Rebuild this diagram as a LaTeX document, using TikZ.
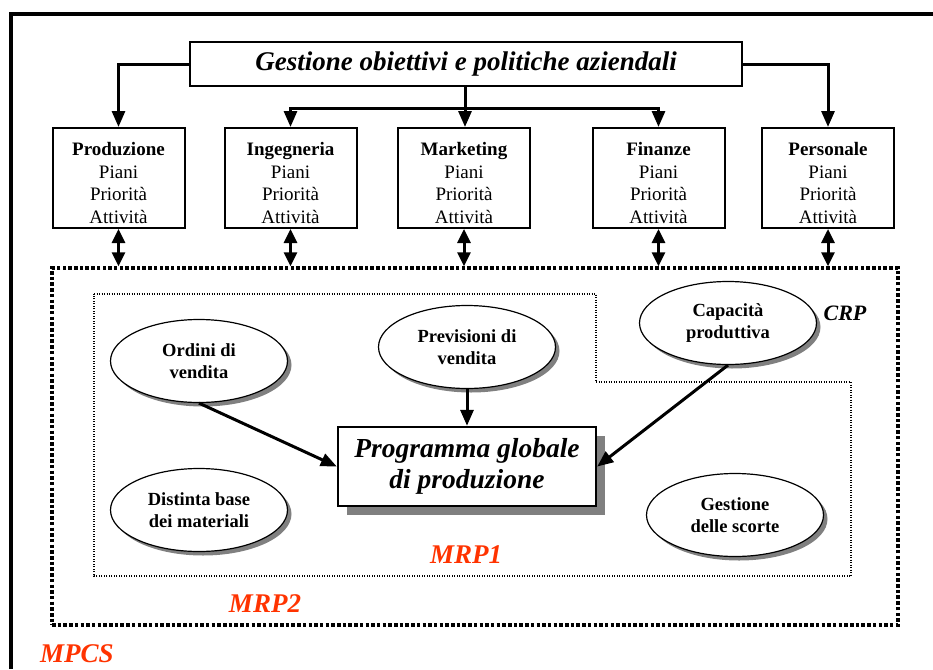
\documentclass[tikz,border=0pt]{standalone}
\usepackage{fontspec}
\setmainfont{Liberation Serif}
\usetikzlibrary{arrows.meta,shapes.geometric,shadows}
\definecolor{mrpred}{RGB}{255,51,0}
\definecolor{shade}{RGB}{128,128,128}

% four-line label of a functional area, set slightly below the box centre
\newcommand\depttext[1]{\raisebox{-7pt}[\height][\depth]{\begin{tabular}{@{}c@{}}\textbf{#1}\\Piani\\Priorità\\Attività\end{tabular}}}

\begin{document}
\begin{tikzpicture}[x=1pt,y=-1pt,
  conn/.style={line width=3pt,-{Triangle[length=16pt,width=13pt]}},
  twoway/.style={line width=3pt,{Triangle[length=14pt,width=13pt]}-{Triangle[length=14pt,width=13pt]}},
  goal/.style={draw,line width=2pt,minimum width=552pt,minimum height=44pt,inner sep=0pt,
    font=\bfseries\itshape\fontsize{27}{30}\selectfont},
  dept/.style={draw,line width=2pt,minimum width=132pt,minimum height=100pt,inner sep=0pt,
    font=\fontsize{19}{22.5}\selectfont},
  input/.style={ellipse,draw,line width=1.2pt,fill=white,minimum width=177pt,minimum height=83pt,
    inner sep=0pt,align=center,font=\bfseries\fontsize{18.5}{22}\selectfont,
    drop shadow={shadow xshift=4pt,shadow yshift=-4pt,fill=shade,opacity=1}},
  master/.style={draw,line width=2.4pt,fill=white,minimum width=258pt,minimum height=79pt,inner sep=0pt,
    align=center,font=\bfseries\itshape\fontsize{27.5}{31}\selectfont,
    drop shadow={shadow xshift=9pt,shadow yshift=-9pt,fill=shade,opacity=1}},
  level/.style={font=\bfseries\itshape\fontsize{27}{27}\selectfont,text=mrpred},
]
\useasboundingbox (0,0) rectangle (933,669);

% outer frame
\draw[line width=3.5pt] (11,669) -- (11,14) -- (933,14);

% company goals and functional areas
\node[goal] (goal) at (466,64) {Gestione obiettivi e politiche aziendali};

\node[dept] (prod) at (118.5,178) {\depttext{Produzione}};
\node[dept] (ing)  at (290.5,178) {\depttext{Ingegneria}};
\node[dept] (mkt)  at (464,178)   {\depttext{Marketing}};
\node[dept] (fin)  at (658.5,178) {\depttext{Finanze}};
\node[dept] (pers) at (828,178)   {\depttext{Personale}};

\coordinate (split) at (465,108);
\draw[conn] (goal.west) -| (prod.north);
\draw[conn] (goal.east) -| (pers.north);
\draw[line width=3pt] (goal.south -| split) -- (split);
\draw[conn] (split) -- (split |- mkt.north);
\draw[conn] (split) -| (ing.north);
\draw[conn] (split) -| (fin.north);

% MRP2 region
\node[draw,line width=3.5pt,dash pattern=on 3.5pt off 2.2pt,minimum width=846pt,minimum height=357pt,
  inner sep=0pt] (mrp2) at (475,446.5) {};

% MRP1 region
\draw[line width=1.1pt,dash pattern=on 1pt off 1.5pt]
  (94,294) -- (596,294) -- (596,382) -- (851,382) -- (851,576) -- (94,576) -- cycle;

\foreach \d in {prod,ing,mkt,fin,pers}
  \draw[twoway] (\d.south) -- (\d.south |- mrp2.north);

% planning inputs
\node[input] (ord)  at (199,361) {Ordini di\\vendita};
\node[input] (prev) at (467,347) {Previsioni di\\vendita};
\node[input] (cap)  at (728,323) {Capacità\\produttiva};
\node[input] (dist) at (199,510) {Distinta base\\dei materiali};
\node[input] (scor) at (735,515) {Gestione\\delle scorte};

\node[master] (prog) at (467,466.5) {Programma globale\\di produzione};

\draw[conn] (ord.south) -- (prog.west);
\draw[conn] (prev.south) -- (prog.north);
\draw[conn] (cap.south) -- (prog.east);

% level labels
\node[font=\bfseries\itshape\fontsize{22}{22}\selectfont] (crp) at (845,313) {CRP};
\node[level] (mrp1) at (466,555) {MRP1};
\node[level] (mrp2l) at (265,604) {MRP2};
\node[level] (mpcs) at (77,654) {MPCS};
\end{tikzpicture}
\end{document}
